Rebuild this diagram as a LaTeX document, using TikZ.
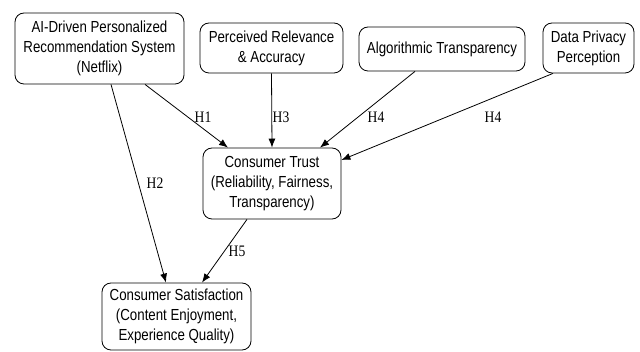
\documentclass[tikz,border=0pt]{standalone}
\usepackage{fontspec}
\setmainfont[FakeStretch=0.83]{Liberation Sans}
\newfontfamily\lblfont[FakeStretch=0.85]{Liberation Serif}
\usetikzlibrary{arrows.meta}
\begin{document}
\begin{tikzpicture}[x=1pt,y=-1pt,
  box/.style={draw, line width=0.8pt, rounded corners=9pt, align=center,
    inner sep=0pt, font=\fontsize{16}{20}\selectfont},
  arr/.style={draw, line width=0.8pt, -{Latex[length=9pt,width=7pt]}},
  lbl/.style={font=\lblfont\fontsize{16}{18}\selectfont, inner sep=0pt}]
\useasboundingbox (0,0) rectangle (640,352);
\node[box, minimum width=169pt, minimum height=71pt] (A) at (99.5,48.5)
  {AI-Driven Personalized\\Recommendation System\\(Netflix)};
\node[box, minimum width=143pt, minimum height=50pt] (B) at (271.5,48)
  {Perceived Relevance\\\& Accuracy};
\node[box, minimum width=166pt, minimum height=44pt] (C) at (442,49)
  {Algorithmic Transparency};
\node[box, minimum width=91pt, minimum height=50pt] (D) at (588.5,48)
  {Data Privacy\\Perception};
\node[box, minimum width=138pt, minimum height=71pt] (E) at (272,183.5)
  {Consumer Trust\\(Reliability, Fairness,\\Transparency)};
\node[box, minimum width=149pt, minimum height=67pt] (F) at (176.5,316.5)
  {Consumer Satisfaction\\(Content Enjoyment,\\Experience Quality)};
\draw[arr] ([xshift=45.5pt]A.south) -- ([xshift=-44pt]E.north);
\draw[arr] (B.south) -- (E.north);
\draw[arr] ([xshift=-27pt]C.south) -- ([xshift=48pt]E.north);
\draw[arr] ([xshift=-35.5pt]D.south) -- ([yshift=23.5pt]E.east);
\draw[arr] ([xshift=11.5pt]A.south) -- ([xshift=-10.5pt]F.north);
\draw[arr] ([xshift=-25pt]E.south) -- ([xshift=25.5pt]F.north);
\node[lbl] (h1) at (203,117) {H1};
\node[lbl] (h3) at (281,117) {H3};
\node[lbl] (h4a) at (376,117) {H4};
\node[lbl] (h4b) at (493,117) {H4};
\node[lbl] (h2) at (155,183) {H2};
\node[lbl] (h5) at (237,251) {H5};
\end{tikzpicture}
\end{document}
